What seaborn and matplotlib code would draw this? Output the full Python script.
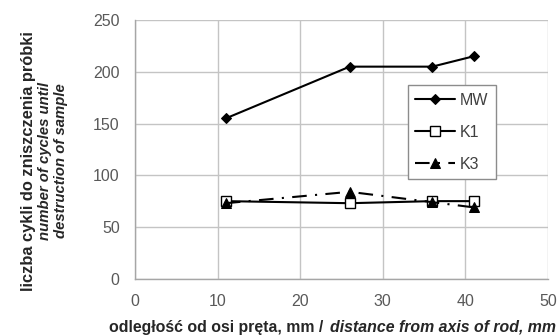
import matplotlib
matplotlib.use("Agg")
import matplotlib.pyplot as plt
import seaborn as sns

# values
distance = [11, 26, 36, 41]
mw = [155, 205, 205, 215]
k1 = [75, 73, 75, 75]
k3 = [73, 84, 74, 69]

sns.set_theme(style="white")
plt.rcParams["font.family"] = ["Liberation Sans", "DejaVu Sans"]

fig = plt.figure(figsize=(5.59, 3.35), dpi=100)
ax = fig.add_axes([0.2415, 0.168, 0.7385, 0.772])

sns.lineplot(x=distance, y=mw, ax=ax, color="black", linewidth=1.5,
             marker="D", markersize=5.5, markerfacecolor="black",
             markeredgecolor="black", label="MW")
sns.lineplot(x=distance, y=k1, ax=ax, color="black", linewidth=1.5,
             marker="s", markersize=7.5, markerfacecolor="white",
             markeredgecolor="black", markeredgewidth=1.0, label="K1")
sns.lineplot(x=distance, y=k3, ax=ax, color="black", linewidth=1.5,
             linestyle=(0, (7, 4, 1, 4)), marker="^", markersize=7,
             markerfacecolor="black", markeredgecolor="black", label="K3")

ax.set_xlim(0, 50)
ax.set_ylim(0, 250)
ax.set_xticks(range(0, 51, 10))
ax.set_yticks(range(0, 251, 50))
ax.grid(True, color="#c4c4c4", linewidth=1.0)
ax.set_axisbelow(True)
for side in ["top", "right"]:
    ax.spines[side].set_visible(False)
for side in ["left", "bottom"]:
    ax.spines[side].set_color("#a6a6a6")
    ax.spines[side].set_linewidth(1.0)
ax.tick_params(axis="both", which="major", labelsize=11.5, labelcolor="#595959",
               colors="#a6a6a6", direction="out", length=5, width=1.0, pad=6)
for lab in ax.get_xticklabels() + ax.get_yticklabels():
    lab.set_color("#595959")
ax.set_xlabel("")
ax.set_ylabel("")

leg = ax.legend(loc="upper left", bbox_to_anchor=(0.661, 0.749), borderaxespad=0,
                frameon=True, fancybox=False, fontsize=11.5, handlelength=2.5,
                handletextpad=0.3, labelspacing=1.07, borderpad=0.47,
                edgecolor="#8c8c8c", framealpha=1)
leg.get_frame().set_linewidth(1.0)
for t in leg.get_texts():
    t.set_color("#404040")

# y axis label: three lines, first bold, others bold italic
fig.text(29 / 559, 1 - 161 / 335, "liczba cykli do zniszczenia próbki",
         rotation=90, ha="center", va="center", fontsize=11.8, fontweight="bold")
fig.text(45 / 559, 1 - 161 / 335, "number of cycles until",
         rotation=90, ha="center", va="center", fontsize=10.7, fontweight="bold",
         fontstyle="italic")
fig.text(61 / 559, 1 - 161 / 335, "destruction of sample",
         rotation=90, ha="center", va="center", fontsize=10.7, fontweight="bold",
         fontstyle="italic")

# x axis label: bold part followed by bold italic part
fig.text(328 / 559, 3 / 335, "odległość od osi pręta, mm / ",
         ha="right", va="baseline", fontsize=11.4, fontweight="bold")
fig.text(330 / 559, 3 / 335, "distance from axis of rod, mm",
         ha="left", va="baseline", fontsize=11.4, fontweight="bold",
         fontstyle="italic")

fig.savefig("out.png", dpi=100)
